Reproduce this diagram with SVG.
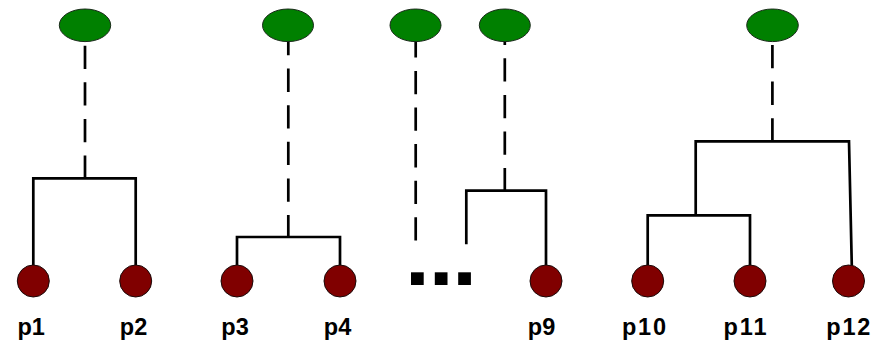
<svg xmlns="http://www.w3.org/2000/svg" width="881" height="341" viewBox="0 0 881 341">
<style>
.bg{fill:#ffffff}
.edge{fill:none;stroke:#000000;stroke-width:2.7;stroke-linecap:butt;stroke-linejoin:miter}
.dash{fill:none;stroke:#000000;stroke-width:2.7;stroke-dasharray:23.3 13.3}
.root{fill:#008000;stroke:#1a2a1a;stroke-width:1}
.leaf{fill:#800000;stroke:#1a0a0a;stroke-width:1}
.dot{fill:#000000}
.lbl{font-family:"Liberation Sans",Arial,Helvetica,sans-serif;font-weight:bold;font-size:23.5px;fill:#000000}
</style>
<rect class="bg" x="0" y="0" width="881" height="341"/>
<g id="connectors">
<line class="dash" x1="85" y1="45.7" x2="85" y2="178.3"/>
<path class="edge" d="M33.3 265 V178.3 H135.7 V265"/>
<line class="dash" x1="288.3" y1="32" x2="288.3" y2="237"/>
<path class="edge" d="M237 265 V237 H340 V265"/>
<line class="dash" x1="415.7" y1="34.3" x2="415.7" y2="241"/>
<line class="dash" x1="504.8" y1="21.7" x2="504.8" y2="190.7"/>
<path class="edge" d="M466.3 244.3 V190.7 H546 V265"/>
<line class="dash" x1="772.4" y1="45" x2="772.4" y2="141.3"/>
<path class="edge" d="M695.7 215.3 V141.3 H849 L851.8 266"/>
<path class="edge" d="M647.7 265 V215.3 H750 V265"/>
</g>
<g id="root1"><ellipse class="root" cx="85" cy="25.3" rx="25.7" ry="16.3"/></g>
<g id="root2"><ellipse class="root" cx="288" cy="25.3" rx="25.5" ry="16.3"/></g>
<g id="root3"><ellipse class="root" cx="415.5" cy="25.3" rx="25.5" ry="16.3"/></g>
<g id="root4"><ellipse class="root" cx="504.8" cy="25.3" rx="25.5" ry="16.3"/></g>
<g id="root5"><ellipse class="root" cx="772.5" cy="25.3" rx="25.8" ry="16.3"/></g>
<g id="p1"><circle class="leaf" cx="33.3" cy="281" r="16"/><text class="lbl" x="17.5" y="334.5">p1</text></g>
<g id="p2"><circle class="leaf" cx="135.7" cy="281" r="16"/><text class="lbl" x="119.8" y="334.5">p2</text></g>
<g id="p3"><circle class="leaf" cx="237" cy="281" r="16"/><text class="lbl" x="221.3" y="334.5">p3</text></g>
<g id="p4"><circle class="leaf" cx="340" cy="281" r="16"/><text class="lbl" x="323.8" y="334.5">p4</text></g>
<g id="ellipsis"><rect class="dot" x="411" y="272.3" width="12.7" height="12.7"/><rect class="dot" x="434.8" y="272.3" width="12.7" height="12.7"/><rect class="dot" x="458.2" y="272.3" width="12.7" height="12.7"/></g>
<g id="p9"><circle class="leaf" cx="546" cy="281" r="16"/><text class="lbl" x="527.8" y="334.5">p9</text></g>
<g id="p10"><circle class="leaf" cx="647.7" cy="281" r="16"/><text class="lbl" x="622" y="334.5" textLength="44" lengthAdjust="spacing">p10</text></g>
<g id="p11"><circle class="leaf" cx="750" cy="281" r="16"/><text class="lbl" x="723.5" y="334.5" textLength="43" lengthAdjust="spacing">p11</text></g>
<g id="p12"><circle class="leaf" cx="848.5" cy="281" r="16"/><text class="lbl" x="826.3" y="334.5" textLength="44" lengthAdjust="spacing">p12</text></g>
</svg>
